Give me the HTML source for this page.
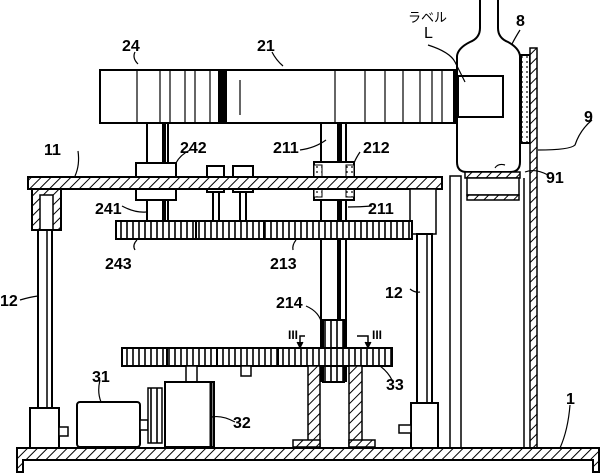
<!DOCTYPE html>
<html><head><meta charset="utf-8"><style>
html,body{margin:0;padding:0;background:#fff}
svg{display:block}
text{font-family:"Liberation Sans","Noto Sans CJK JP",sans-serif;font-size:16px;fill:#000;font-weight:bold}
</style></head><body>
<svg width="600" height="473" viewBox="0 0 600 473" xmlns="http://www.w3.org/2000/svg">
<defs>
<pattern id="h" width="7" height="7" patternUnits="userSpaceOnUse" patternTransform="rotate(45)">
<rect width="7" height="7" fill="#fff"/><line x1="0" y1="0" x2="0" y2="7" stroke="#000" stroke-width="2"/>
</pattern>
<pattern id="g" width="6" height="10" patternUnits="userSpaceOnUse">
<rect width="6" height="10" fill="#fff"/><line x1="1" y1="0" x2="1" y2="10" stroke="#000" stroke-width="1.6"/>
</pattern>
<pattern id="d" width="5" height="5" patternUnits="userSpaceOnUse">
<rect width="5" height="5" fill="#fff"/><circle cx="2" cy="2" r="0.9" fill="#000"/>
</pattern>
</defs>
<g fill="none" stroke="#000" stroke-width="2">
<!-- bottle -->
<path d="M480 0 L480 28 Q480 38 470 42 Q458 48 457 56 L457 162 Q457 172 467 172 L510 172 Q520 172 520 162 L520 56 Q519 48 508 42 Q498 38 498 28 L498 0" fill="#fff"/>
<rect x="458" y="76" width="45" height="41" fill="#fff"/>
<!-- drum -->
<rect x="100" y="70" width="357" height="53" fill="#fff"/>
<g stroke-width="1.2">
<line x1="137" y1="70" x2="137" y2="123"/><line x1="160" y1="70" x2="160" y2="123"/><line x1="170" y1="70" x2="170" y2="123"/><line x1="185" y1="70" x2="185" y2="123"/><line x1="195" y1="70" x2="195" y2="123"/>
<line x1="210" y1="70" x2="210" y2="123"/><line x1="240" y1="80" x2="240" y2="115"/><line x1="335" y1="70" x2="335" y2="123"/><line x1="365" y1="70" x2="365" y2="123"/><line x1="385" y1="70" x2="385" y2="123"/><line x1="403" y1="70" x2="403" y2="123"/><line x1="420" y1="70" x2="420" y2="123"/><line x1="432" y1="70" x2="432" y2="123"/><line x1="442" y1="70" x2="442" y2="123"/>
</g>
<rect x="218" y="70" width="9" height="53" fill="#000" stroke="none"/>
<rect x="453" y="70" width="4" height="53" fill="#000" stroke="none"/>
<!-- label strip and plate 9 -->
<rect x="521" y="55" width="9" height="88" fill="url(#d)"/>
<rect x="530" y="48" width="7" height="402" fill="url(#h)" stroke-width="1.5"/>
<!-- cup -->
<rect x="465" y="172" width="55" height="6" fill="url(#h)" stroke-width="1.5"/>
<rect x="467" y="178" width="52" height="17" fill="#fff" stroke-width="1.5"/>
<rect x="467" y="195" width="52" height="5" fill="url(#h)" stroke-width="1.5"/>
<!-- right verticals -->
<rect x="450" y="176" width="11" height="272" fill="#fff" stroke-width="1.5"/>
<line x1="524" y1="178" x2="524" y2="448" stroke-width="1.5"/>
<!-- shafts -->
<rect x="147" y="123" width="21" height="100" fill="#fff"/>
<rect x="162" y="123" width="4" height="100" fill="#000" stroke="none"/>
<rect x="321" y="123" width="25" height="258" fill="#fff"/>
<rect x="337" y="123" width="5" height="100" fill="#000" stroke="none"/>
<rect x="337" y="240" width="4" height="80" fill="#000" stroke="none"/>
<!-- 242 block -->
<rect x="136" y="163" width="40" height="37" fill="#fff"/>
<!-- bearing 212 -->
<rect x="314" y="162" width="40" height="38" fill="#fff"/>
<rect x="314" y="165" width="8" height="32" fill="url(#d)" stroke-width="1"/>
<rect x="346" y="165" width="8" height="32" fill="url(#d)" stroke-width="1"/>
<!-- small posts -->
<rect x="207" y="166" width="17" height="26" fill="#fff"/>
<rect x="233" y="166" width="20" height="26" fill="#fff"/>
<line x1="213" y1="192" x2="213" y2="222"/><line x1="219" y1="192" x2="219" y2="222"/>
<line x1="240" y1="192" x2="240" y2="222"/><line x1="246" y1="192" x2="246" y2="222"/>
<!-- plate 11 -->
<rect x="28" y="177" width="414" height="12" fill="url(#h)"/>
<!-- left support -->
<rect x="32" y="189" width="29" height="41" fill="url(#h)"/>
<rect x="40" y="195" width="13" height="35" fill="#fff" stroke-width="1.5"/>
<!-- right support -->
<rect x="410" y="189" width="26" height="45" fill="#fff" stroke-width="1.5"/>
<!-- upper gear -->
<rect x="116" y="221" width="296" height="18" fill="url(#g)"/>
<line x1="196" y1="221" x2="196" y2="239"/><line x1="264" y1="221" x2="264" y2="239"/>
<!-- columns 12 -->
<rect x="38" y="230" width="14" height="178" fill="#fff"/>
<line x1="47" y1="230" x2="47" y2="408" stroke-width="1.5"/>
<rect x="417" y="234" width="15" height="169" fill="#fff"/>
<line x1="427" y1="234" x2="427" y2="403" stroke-width="1.5"/>
<!-- 214 rod -->
<rect x="323" y="320" width="21" height="62" fill="url(#g)"/>
<!-- lower gear -->
<rect x="122" y="348" width="270" height="18" fill="url(#g)"/>
<line x1="167" y1="348" x2="167" y2="366"/><line x1="217" y1="348" x2="217" y2="366"/><line x1="278" y1="348" x2="278" y2="366"/>
<rect x="186" y="366" width="11" height="16" fill="#fff" stroke-width="1.5"/>
<rect x="241" y="366" width="10" height="10" fill="#fff" stroke-width="1.5"/>
<!-- legs 33 -->
<rect x="308" y="366" width="12" height="81" fill="url(#h)" stroke-width="1.5"/>
<rect x="349" y="366" width="13" height="81" fill="url(#h)" stroke-width="1.5"/>
<rect x="293" y="440" width="27" height="7" fill="url(#h)" stroke-width="1.5"/>
<rect x="349" y="440" width="26" height="7" fill="url(#h)" stroke-width="1.5"/>
<!-- section arrows III -->
<path d="M305 336 L300 336 L300 345" stroke-width="1.5"/><path d="M297 342 L300 348 L303 342" fill="#000" stroke-width="1"/>
<path d="M357 336 L368 336 L368 345" stroke-width="1.5"/><path d="M365 342 L368 348 L371 342" fill="#000" stroke-width="1"/>
<!-- feet -->
<rect x="30" y="408" width="29" height="40" fill="#fff"/>
<rect x="59" y="427" width="9" height="9" fill="#fff" stroke-width="1.5"/>
<rect x="411" y="403" width="27" height="45" fill="#fff"/>
<rect x="399" y="425" width="12" height="8" fill="#fff" stroke-width="1.5"/>
<!-- motor 31 -->
<rect x="77" y="402" width="63" height="45" rx="3" fill="#fff"/>
<rect x="140" y="420" width="8" height="10" fill="#fff" stroke-width="1.5"/>
<rect x="148" y="388" width="14" height="55" fill="url(#g)" stroke-width="1.5"/>
<!-- box 32 -->
<rect x="165" y="382" width="49" height="65" fill="#fff"/>
<line x1="211" y1="382" x2="211" y2="447" stroke-width="3"/>
<!-- base 1 -->
<path d="M17 448 L599 448 L599 472 L593 472 L593 460 L23 460 L23 472 L17 472 Z" fill="url(#h)"/>
<!-- leader lines -->
<g stroke-width="1.2">
<path d="M135 52 Q132 58 138 64"/>
<path d="M272 52 Q276 60 283 66"/>
<path d="M428 45 Q450 52 455 62 Q460 72 465 82"/>
<path d="M520 30 Q515 38 512 44"/>
<path d="M592 120 Q580 130 575 145 Q570 150 538 150"/>
<path d="M548 175 Q535 168 525 172 M505 165 Q498 163 495 168"/>
<path d="M78 151 Q80 165 75 176"/>
<path d="M190 150 Q180 155 176 163"/>
<path d="M300 150 Q315 148 326 140"/>
<path d="M360 152 Q356 158 354 163"/>
<path d="M122 206 Q135 213 146 212"/>
<path d="M372 206 Q360 207 348 207"/>
<path d="M137 240 Q132 245 135 250"/>
<path d="M296 240 Q292 245 293 250"/>
<path d="M20 300 Q30 297 38 296"/>
<path d="M306 306 Q320 312 322 325"/>
<path d="M410 289 Q415 293 420 292"/>
<path d="M100 380 Q97 392 101 402"/>
<path d="M235 422 Q222 415 212 417"/>
<path d="M392 380 Q388 372 380 366"/>
<path d="M570 405 Q568 430 560 448"/>
</g>
</g>
<g>
<text x="122" y="51">24</text>
<text x="257" y="51">21</text>
<text x="408" y="22" style="font-size:13px;font-weight:normal">ラベル</text>
<text x="424" y="38" style="font-weight:normal">L</text>
<text x="516" y="26">8</text>
<text x="584" y="122">9</text>
<text x="546" y="183">91</text>
<text x="44" y="155">11</text>
<text x="180" y="153">242</text>
<text x="273" y="153">211</text>
<text x="363" y="153">212</text>
<text x="95" y="214">241</text>
<text x="368" y="214">211</text>
<text x="105" y="269">243</text>
<text x="270" y="269">213</text>
<text x="0" y="306">12</text>
<text x="276" y="308">214</text>
<text x="288" y="339" style="font-size:12px">III</text>
<text x="372" y="339" style="font-size:12px">III</text>
<text x="385" y="298">12</text>
<text x="92" y="382">31</text>
<text x="233" y="428">32</text>
<text x="386" y="390">33</text>
<text x="566" y="404">1</text>
</g>
</svg>
</body></html>
